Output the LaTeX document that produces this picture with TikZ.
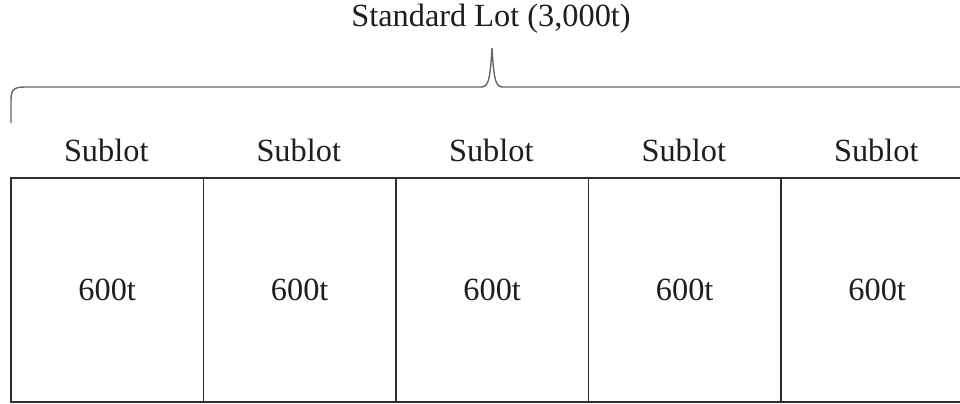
\documentclass[tikz,border=0pt]{standalone}
\usepackage{fontspec}
\setmainfont{Liberation Serif}
\usetikzlibrary{positioning}
\definecolor{LotLine}{HTML}{2E2E2E}
\definecolor{LotBrace}{HTML}{6A6666}
\definecolor{LotText}{HTML}{1E1E1E}

\begin{document}
\begin{tikzpicture}[x=0.025cm,y=-0.025cm,
    sublot box/.style={draw=LotLine,line width=1.3pt,inner sep=0pt,
      minimum width=4.8125cm,minimum height=5.6cm,anchor=north west,
      text=LotText,font=\fontsize{23}{27}\selectfont},
    sublot label/.style={text=LotText,inner sep=0pt,
      font=\fontsize{23}{27}\selectfont}]

        \useasboundingbox (0,0) rectangle (960,403);
        \clip (0,0) rectangle (960,403);

        % five equal sublots
        \foreach \i in {0,...,4} {
          \node[sublot box] (box\i) at ({10+192.5*\i},177) {600t};
          \node[sublot label] (lab\i) at ({106.25+192.5*\i},150) {Sublot};
        }

        % brace over the whole lot
        \draw[LotBrace,line width=1pt]
          (11,123) -- (11,101) .. controls (11,90) and (13,87) .. (25,87)
          -- (481,87) .. controls (488,87) and (490,82) .. (492,48)
          .. controls (494,82) and (496,87) .. (503,87)
          -- (960,87);

        \node[text=LotText,inner sep=0pt,
          font=\fontsize{23}{27}\selectfont]
          (lot) at (491,19) {Standard Lot (3,000t)};

      \end{tikzpicture}
\end{document}
